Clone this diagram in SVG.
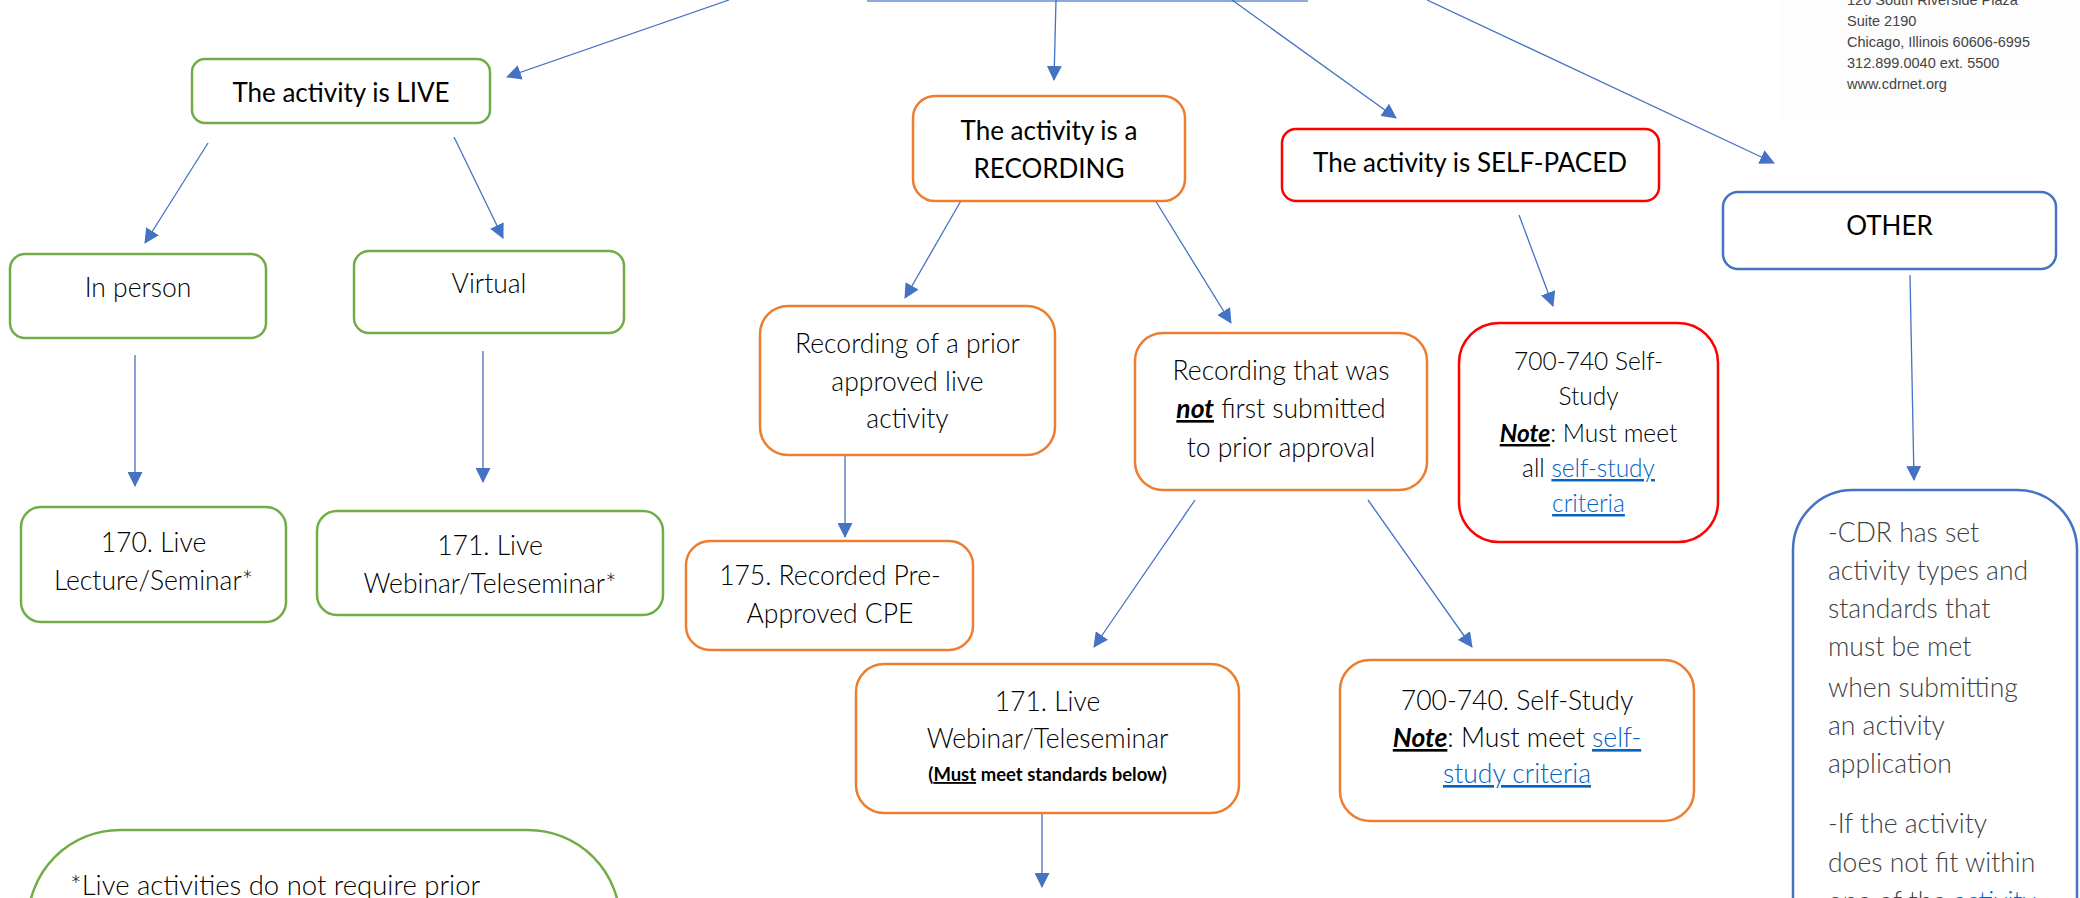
<svg xmlns="http://www.w3.org/2000/svg" width="2080" height="898" viewBox="0 0 2080 898">
<defs>
<marker id="ah" markerUnits="userSpaceOnUse" markerWidth="15" markerHeight="15" refX="14" refY="7.5" orient="auto">
<path d="M0,0 L15,7.5 L0,15 z" fill="#4472c4"/>
</marker>
</defs>
<style>
.n{fill:#fff;stroke-width:2.5}
.g{stroke:#70ad47}.o{stroke:#ed7d31}.r{stroke:#ff0000}.b{stroke:#4472c4}
text{font-family:Lato,"Liberation Sans",sans-serif;font-size:26.5px;font-weight:300;fill:#000;text-anchor:middle}
.reg{font-weight:400;font-size:26px}
.lk{fill:#0563c1;text-decoration:underline}
.em{font-weight:700;font-style:italic;text-decoration:underline}
.note text{text-anchor:start;fill:#404040}
.addr text{font-family:"Liberation Sans",sans-serif;font-size:14.5px;font-weight:400;fill:#444;text-anchor:start}
#connectors line{stroke:#4472c4;stroke-width:1.3;fill:none;marker-end:url(#ah)}
</style>
<rect width="2080" height="898" fill="#fff"/>

<g id="top">
<rect x="868" y="-60" width="439" height="61" fill="#fff" stroke="#8eaadb" stroke-width="2"/>
</g>

<g id="address" class="addr">
<rect x="1780" y="0" width="300" height="120" fill="#fdfdfd"/>
<text x="1847" y="5">120 South Riverside Plaza</text>
<text x="1847" y="26">Suite 2190</text>
<text x="1847" y="47">Chicago, Illinois 60606-6995</text>
<text x="1847" y="68">312.899.0040 ext. 5500</text>
<text x="1847" y="89">www.cdrnet.org</text>
</g>

<g id="connectors">
<line x1="729" y1="0" x2="507" y2="77"/>
<line x1="1056" y1="0" x2="1054" y2="80"/>
<line x1="1232" y1="0" x2="1396" y2="118"/>
<line x1="1427" y1="0" x2="1774" y2="163"/>
<line x1="208" y1="143" x2="145" y2="243"/>
<line x1="454" y1="137" x2="503" y2="238"/>
<line x1="135" y1="355" x2="135" y2="486"/>
<line x1="483" y1="351" x2="483" y2="482"/>
<line x1="962" y1="199" x2="905" y2="298"/>
<line x1="1155" y1="200" x2="1231" y2="323"/>
<line x1="845" y1="455" x2="845" y2="537"/>
<line x1="1195" y1="500" x2="1094" y2="647"/>
<line x1="1368" y1="500" x2="1472" y2="647"/>
<line x1="1042" y1="813" x2="1042" y2="887"/>
<line x1="1519" y1="215" x2="1553" y2="306"/>
<line x1="1910" y1="275" x2="1914" y2="480"/>
</g>

<g id="live">
<rect class="n g" x="192" y="59" width="298" height="64" rx="13"/>
<text class="reg" x="341" y="102">The activity is LIVE</text>
</g>
<g id="inperson">
<rect class="n g" x="10" y="254" width="256" height="84" rx="15"/>
<text x="138" y="297">In person</text>
</g>
<g id="virtual">
<rect class="n g" x="354" y="251" width="270" height="82" rx="15"/>
<text x="489" y="293">Virtual</text>
</g>
<g id="n170">
<rect class="n g" x="21" y="507" width="265" height="115" rx="20"/>
<text x="153.5" y="552">170. Live</text>
<text x="153.5" y="590">Lecture/Seminar*</text>
</g>
<g id="n171g">
<rect class="n g" x="317" y="511" width="346" height="104" rx="20"/>
<text x="490" y="555">171. Live</text>
<text x="490" y="593">Webinar/Teleseminar*</text>
</g>

<g id="recording">
<rect class="n o" x="913" y="96" width="272" height="105" rx="22"/>
<text class="reg" x="1049" y="140">The activity is a</text>
<text class="reg" x="1049" y="178">RECORDING</text>
</g>
<g id="selfpaced">
<rect class="n r" x="1282" y="129" width="377" height="72" rx="14"/>
<text class="reg" x="1470" y="172">The activity is SELF-PACED</text>
</g>
<g id="other">
<rect class="n b" x="1723" y="192" width="333" height="77" rx="15"/>
<text class="reg" x="1889.5" y="235">OTHER</text>
</g>

<g id="prior">
<rect class="n o" x="760" y="306" width="295" height="149" rx="28"/>
<text x="907.5" y="353">Recording of a prior</text>
<text x="907.5" y="391">approved live</text>
<text x="907.5" y="428">activity</text>
</g>
<g id="notfirst">
<rect class="n o" x="1135" y="333" width="292" height="157" rx="28"/>
<text x="1281" y="380">Recording that was</text>
<text x="1281" y="418"><tspan class="em">not</tspan> first submitted</text>
<text x="1281" y="457">to prior approval</text>
</g>
<g id="n175">
<rect class="n o" x="686" y="541" width="287" height="109" rx="24"/>
<text x="830" y="585">175. Recorded Pre-</text>
<text x="830" y="623">Approved CPE</text>
</g>
<g id="n171o">
<rect class="n o" x="856" y="664" width="383" height="149" rx="28"/>
<text x="1047.5" y="711">171. Live</text>
<text x="1047.5" y="748">Webinar/Teleseminar</text>
<text x="1047.5" y="781" style="font-weight:700;font-size:18.5px">(<tspan style="text-decoration:underline">Must</tspan> meet standards below)</text>
</g>
<g id="n700o">
<rect class="n o" x="1340" y="660" width="354" height="161" rx="30"/>
<text x="1517" y="710">700-740. Self-Study</text>
<text x="1517" y="747"><tspan class="em">Note</tspan>: Must meet <tspan class="lk">self-</tspan></text>
<text x="1517" y="783"><tspan class="lk">study criteria</tspan></text>
</g>

<g id="n700r">
<rect class="n r" x="1459" y="323" width="259" height="219" rx="40"/>
<text x="1588.5" y="370" style="font-size:24.5px">700-740 Self-</text>
<text x="1588.5" y="405" style="font-size:24.5px">Study</text>
<text x="1588.5" y="442" style="font-size:24.5px"><tspan class="em">Note</tspan>: Must meet</text>
<text x="1588.5" y="477" style="font-size:24.5px">all <tspan class="lk">self-study</tspan></text>
<text x="1588.5" y="512" style="font-size:24.5px"><tspan class="lk">criteria</tspan></text>
</g>

<g id="note" class="note">
<rect class="n b" x="1793" y="490" width="284" height="520" rx="60"/>
<text x="1828" y="542">-CDR has set</text>
<text x="1828" y="580">activity types and</text>
<text x="1828" y="618">standards that</text>
<text x="1828" y="656">must be met</text>
<text x="1828" y="697">when submitting</text>
<text x="1828" y="735">an activity</text>
<text x="1828" y="773">application</text>
<text x="1828" y="833">-If the activity</text>
<text x="1828" y="872">does not fit within</text>
<text x="1828" y="911">one of the <tspan style="fill:#0563c1">activity</tspan></text>
</g>

<g id="footnote">
<rect class="n g" x="28" y="830" width="592" height="220" rx="92"/>
<text x="70" y="895" style="text-anchor:start;font-size:27.5px">*Live activities do not require prior</text>
</g>
</svg>
